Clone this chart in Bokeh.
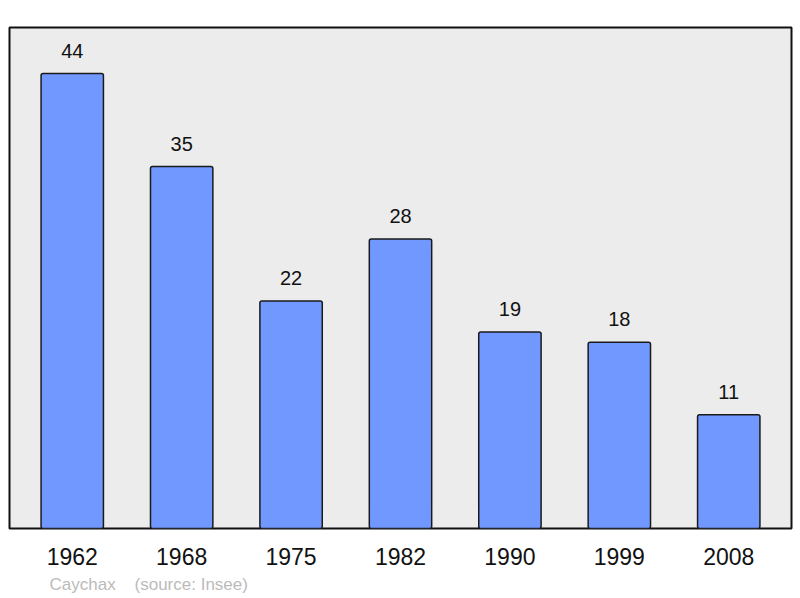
from bokeh.plotting import figure
from bokeh.models import FactorRange, Range1d, Title, ColumnDataSource
from bokeh.core.properties import value
from bokeh.embed import file_html
from bokeh.resources import INLINE

years = ["1962", "1968", "1975", "1982", "1990", "1999", "2008"]
population = [44, 35, 22, 28, 19, 18, 11]
labels = [str(v) for v in population]
commune = "Caychax"
source_note = "(source: Insee)"

src = ColumnDataSource(dict(x=years, top=population, label=labels))

p = figure(
    width=800, height=598,
    x_range=FactorRange(factors=years, range_padding=0.021),
    y_range=Range1d(0, 48.45),
    output_backend="svg", toolbar_location=None,
    y_axis_location=None,
    min_border_left=9, min_border_right=9, min_border_top=27, min_border_bottom=70,
    background_fill_color="#ececec", border_fill_color="white",
)
p.outline_line_color = "#111111"
p.outline_line_width = 2
p.xgrid.visible = False
p.ygrid.visible = False

p.vbar(x="x", top="top", width=0.57, source=src, fill_color="#7098ff",
       line_color="#1a1a1a", line_width=1.5, border_radius=2)

p.text(x="x", y="top", text="label", source=src, y_offset=-23,
       text_align="center", text_baseline="alphabetic",
       text_font=value("Liberation Sans"), text_font_size="20px", text_color="#111111")

ax = p.xaxis[0]
ax.axis_line_color = None
ax.major_tick_line_color = None
ax.minor_tick_line_color = None
ax.major_label_text_font = "Liberation Sans"
ax.major_label_text_font_size = "23px"
ax.major_label_text_color = "#111111"
ax.major_label_standoff = 13

note = commune + "\u00a0\u00a0\u00a0\u00a0" + source_note
p.add_layout(Title(text=note, align="left", offset=40, standoff=10,
                   text_font="Liberation Sans", text_font_size="17px",
                   text_font_style="normal", text_color="#bbbbbb"), "below")

open("out.html", "w").write(file_html(p, INLINE))
